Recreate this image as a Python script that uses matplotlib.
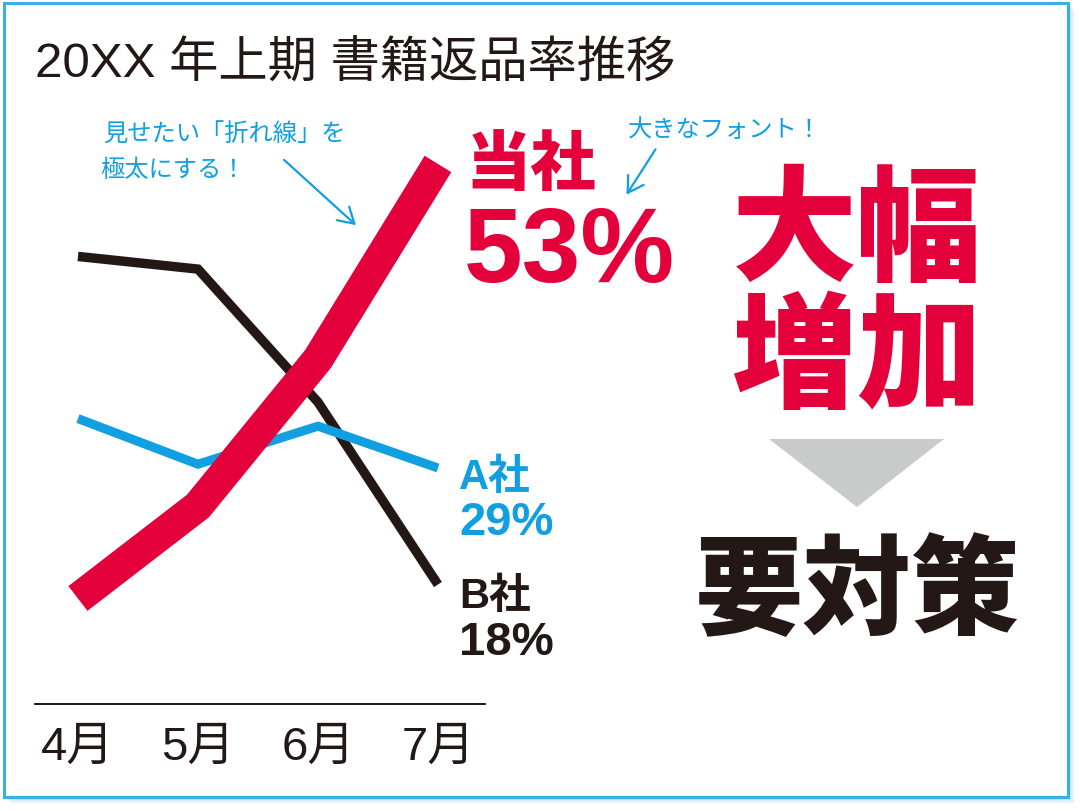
import matplotlib
matplotlib.use('Agg')
import matplotlib.pyplot as plt
from matplotlib.patches import Rectangle, Polygon, FancyArrowPatch
from matplotlib import rcParams

rcParams['font.family'] = ['Noto Sans CJK JP', 'DejaVu Sans']
MIX = ['Liberation Sans', 'Noto Sans CJK JP']   # latin digits + japanese

######################################
# Data
months = ['4月', '5月', '6月', '7月']
ours = [18.7, 26.0, 37.6, 53.0]      # 当社
comp_a = [32.9, 29.3, 32.3, 29.0]    # A社
comp_b = [45.7, 44.7, 34.2, 19.8]    # B社
last_labels = [53, 29, 18]
######################################

RED = '#e4003a'
BLUE = '#10a0e2'
DARK = '#231815'
W, H = 1080, 812


def fx(x):
    return x / W


def fy(y):
    return 1 - y / H


fig = plt.figure(figsize=(10.8, 8.12), dpi=100)
fig.patch.set_facecolor('white')

# frame with a soft shadow
for off, a in [(7, 0.10), (5, 0.18), (3, 0.30)]:
    fig.patches.append(Rectangle((fx(4 + off), fy(798 + off)), fx(1064), 794 / H,
                                 transform=fig.transFigure, facecolor='#7fcdf0',
                                 edgecolor='none', alpha=a, zorder=0))
fig.patches.append(Rectangle((fx(4), fy(798)), fx(1064), 794 / H,
                             transform=fig.transFigure, facecolor='white',
                             edgecolor='#3aaee6', lw=2.2, zorder=0.5))

ax = fig.add_axes([fx(35), fy(705), fx(450), 565 / H])
ax.set_zorder(3)
ax.set_facecolor('none')
x = range(len(months))
ax.plot(x, comp_b, color=DARK, lw=6.8, solid_joinstyle='miter', solid_capstyle='butt', zorder=2)
ax.plot(x, comp_a, color=BLUE, lw=6.5, solid_joinstyle='miter', solid_capstyle='butt', zorder=3)
ax.plot(x, ours, color=RED, lw=22.5, solid_joinstyle='miter', solid_capstyle='butt', zorder=4)
ax.set_xlim(-0.358, 3.392)
ax.set_ylim(10.37, 54.97)
for s in ['top', 'right', 'left']:
    ax.spines[s].set_visible(False)
ax.spines['bottom'].set_color(DARK)
ax.spines['bottom'].set_linewidth(1.4)
ax.set_yticks([])
ax.set_xticks(list(x))
ax.set_xticklabels(months, fontsize=34, color=DARK, family=MIX)
ax.tick_params(axis='x', length=0, pad=15)

# title
fig.text(fx(35), fy(78), '20XX 年上期 書籍返品率推移', fontsize=35.5, color=DARK,
         va='baseline', ha='left', family=MIX)

# end labels
fig.text(fx(466), fy(185), '当社', fontsize=47, color=RED, weight='heavy', va='baseline')
fig.text(fx(464), fy(282), '%d%%' % last_labels[0], fontsize=76, color=RED, weight='bold',
         va='baseline', family=MIX)
fig.text(fx(459), fy(489), 'A社', fontsize=30, color=BLUE, weight='bold', va='baseline',
         family=MIX)
fig.text(fx(459), fy(535), '%d%%' % last_labels[1], fontsize=34, color=BLUE, weight='bold',
         va='baseline', family=MIX)
fig.text(fx(459), fy(608), 'B社', fontsize=30, color=DARK, weight='bold', va='baseline',
         family=MIX)
fig.text(fx(459), fy(655), '%d%%' % last_labels[2], fontsize=34, color=DARK, weight='bold',
         va='baseline', family=MIX)

# right side message
fig.text(fx(857), fy(271), '大幅', fontsize=90, color=RED, weight='heavy', ha='center',
         va='baseline')
fig.text(fx(857), fy(398), '増加', fontsize=90, color=RED, weight='heavy', ha='center',
         va='baseline')
fig.patches.append(Polygon([(fx(769), fy(440)), (fx(944), fy(440)), (fx(857), fy(508))],
                           closed=True, transform=fig.transFigure, facecolor='#c9caca',
                           edgecolor='none'))
fig.text(fx(857), fy(626), '要対策', fontsize=78, color=DARK, weight='heavy', ha='center',
         va='baseline')

# notes
fig.text(fx(103), fy(142), '見せたい「折れ線」を', fontsize=17.5, color=BLUE, va='baseline')
fig.text(fx(100), fy(177), '極太にする！', fontsize=17.5, color=BLUE, va='baseline')
fig.text(fx(628), fy(137), '大きなフォント！', fontsize=17.5, color=BLUE, va='baseline')
arrow = dict(arrowstyle='->,head_length=0.5,head_width=0.3', color=BLUE, lw=1.6,
             mutation_scale=22)
fig.add_artist(FancyArrowPatch((fx(282), fy(159)), (fx(358), fy(228)),
                               transform=fig.transFigure, **arrow))
fig.add_artist(FancyArrowPatch((fx(657), fy(148)), (fx(625), fy(198)),
                               transform=fig.transFigure, **arrow))

plt.savefig('out.png', dpi=100)
